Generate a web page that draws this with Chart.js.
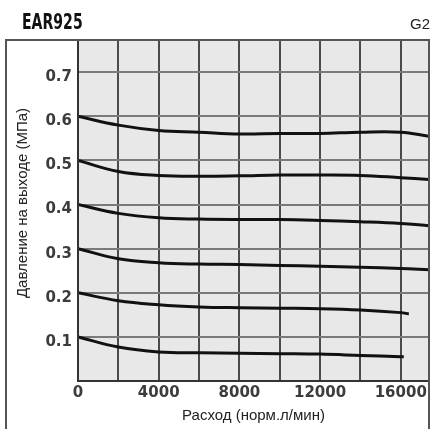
<!DOCTYPE html>
<html>
<head>
<meta charset="utf-8">
<script src="https://cdn.jsdelivr.net/npm/chart.js@4.4.1/dist/chart.umd.min.js"></script>
<style>
    body { margin: 0; background: #fff; }
    #wrap { position: relative; width: 433px; height: 429px; overflow: hidden; }
    #chart { position: absolute; left: 0; top: 0; }
    .model {
        position: absolute; left: 22px; top: 12px;
        font: bold 21px "DejaVu Sans", sans-serif; line-height: 21px;
        color: #111; transform: scaleX(0.67); transform-origin: left top;
        white-space: nowrap;
    }
    .code {
        position: absolute; right: 3px; top: 16px;
        font: 15px "Liberation Sans", Arial, sans-serif; line-height: 15px;
        color: #222;
    }
    .ytitle {
        position: absolute; left: -128px; top: 194px; width: 300px;
        text-align: center; font: 15px "Liberation Sans", Arial, sans-serif;
        line-height: 18px; color: #222; transform: rotate(-90deg);
        white-space: nowrap;
    }
</style>
</head>
<body>
<div id="wrap">
    <canvas id="chart" width="433" height="429"></canvas>
    <div class="model">EAR925</div>
    <div class="code">G2</div>
    <div class="ytitle">Давление на выходе (МПа)</div>
</div>
<script>
// flow points (норм.л/мин)
const flow = [0, 2000, 4000, 6000, 8000, 10000, 12000, 14000, 16000, 17400];
const flow02 = [0, 2000, 4000, 6000, 8000, 10000, 12000, 14000, 16000, 16400];
const flow01 = [0, 2000, 4000, 6000, 8000, 10000, 12000, 14000, 16000, 16150];

// outlet pressure (MPa) for each set pressure
const p06 = [0.600, 0.580, 0.568, 0.564, 0.560, 0.561, 0.561, 0.564, 0.564, 0.555];
const p05 = [0.500, 0.475, 0.466, 0.464, 0.465, 0.467, 0.467, 0.466, 0.461, 0.457];
const p04 = [0.400, 0.380, 0.370, 0.367, 0.366, 0.366, 0.364, 0.361, 0.357, 0.352];
const p03 = [0.300, 0.277, 0.268, 0.265, 0.264, 0.262, 0.260, 0.258, 0.255, 0.252];
const p02 = [0.200, 0.182, 0.173, 0.168, 0.166, 0.165, 0.164, 0.161, 0.155, 0.152];
const p01 = [0.100, 0.077, 0.066, 0.064, 0.063, 0.062, 0.061, 0.058, 0.055, 0.055];

// grid / tick positions
const xTicks = [0, 2000, 4000, 6000, 8000, 10000, 12000, 14000, 16000];
const xLabels = ['0', '', '4000', '', '8000', '', '12000', '', '16000'];
const yTicks = [0, 0.1, 0.2, 0.3, 0.4, 0.5, 0.6, 0.7];
const yLabels = ['', '0.1', '0.2', '0.3', '0.4', '0.5', '0.6', '0.7'];

const xMax = 17400;
const yMax = 0.773;

function makeLine(xs, ys) {
    return {
        data: xs.map((x, i) => ({ x: x, y: ys[i] })),
        borderColor: '#111',
        borderWidth: 3,
        pointRadius: 0,
        tension: 0.4,
        fill: false
    };
}

// plot background and frames
const framePlugin = {
    id: 'frame',
    beforeDraw(chart) {
        const { ctx, chartArea: a } = chart;
        ctx.save();
        ctx.fillStyle = '#e8e8e8';
        ctx.fillRect(a.left, a.top, a.right - a.left, a.bottom - a.top);
        ctx.restore();
    },
    afterDraw(chart) {
        const { ctx, chartArea: a } = chart;
        ctx.save();
        ctx.strokeStyle = '#333';
        ctx.lineWidth = 2;
        ctx.strokeRect(a.left, a.top, a.right - a.left, a.bottom - a.top);
        // outer box around the whole figure
        ctx.strokeStyle = '#555';
        ctx.beginPath();
        ctx.moveTo(6, chart.height);
        ctx.lineTo(6, a.top);
        ctx.lineTo(a.right, a.top);
        ctx.lineTo(a.right, chart.height);
        ctx.stroke();
        ctx.restore();
    }
};

const tickFont = { family: 'DejaVu Sans', size: 15, weight: 'bold' };

new Chart(document.getElementById('chart'), {
    type: 'line',
    data: {
        datasets: [
            makeLine(flow, p06),
            makeLine(flow, p05),
            makeLine(flow, p04),
            makeLine(flow, p03),
            makeLine(flow02, p02),
            makeLine(flow01, p01)
        ]
    },
    options: {
        responsive: false,
        animation: false,
        layout: { padding: { left: 0, top: 40, right: 4, bottom: 0 } },
        plugins: {
            legend: { display: false },
            tooltip: { enabled: false }
        },
        scales: {
            x: {
                type: 'linear',
                min: 0,
                max: xMax,
                afterFit: s => { s.height = 48; },
                afterBuildTicks: s => { s.ticks = xTicks.map(v => ({ value: v })); },
                grid: { color: '#4a4a4a', lineWidth: 2, drawTicks: false },
                border: { display: false },
                ticks: {
                    maxRotation: 0,
                    autoSkip: false,
                    padding: 3,
                    color: '#3c3c3c',
                    font: tickFont,
                    callback: (v, i) => xLabels[i]
                },
                title: {
                    display: true,
                    text: 'Расход (норм.л/мин)',
                    color: '#222',
                    font: { family: 'Liberation Sans', size: 15 },
                    padding: { top: 0, bottom: 4 }
                }
            },
            y: {
                min: 0,
                max: yMax,
                afterFit: s => { s.width = 78; },
                afterBuildTicks: s => { s.ticks = yTicks.map(v => ({ value: v })); },
                grid: { color: '#7a7a7a', lineWidth: 2, drawTicks: false },
                border: { display: false },
                ticks: {
                    autoSkip: false,
                    padding: 6,
                    labelOffset: 5,
                    color: '#3c3c3c',
                    font: tickFont,
                    callback: (v, i) => yLabels[i]
                }
            }
        }
    },
    plugins: [framePlugin]
});
</script>
</body>
</html>
